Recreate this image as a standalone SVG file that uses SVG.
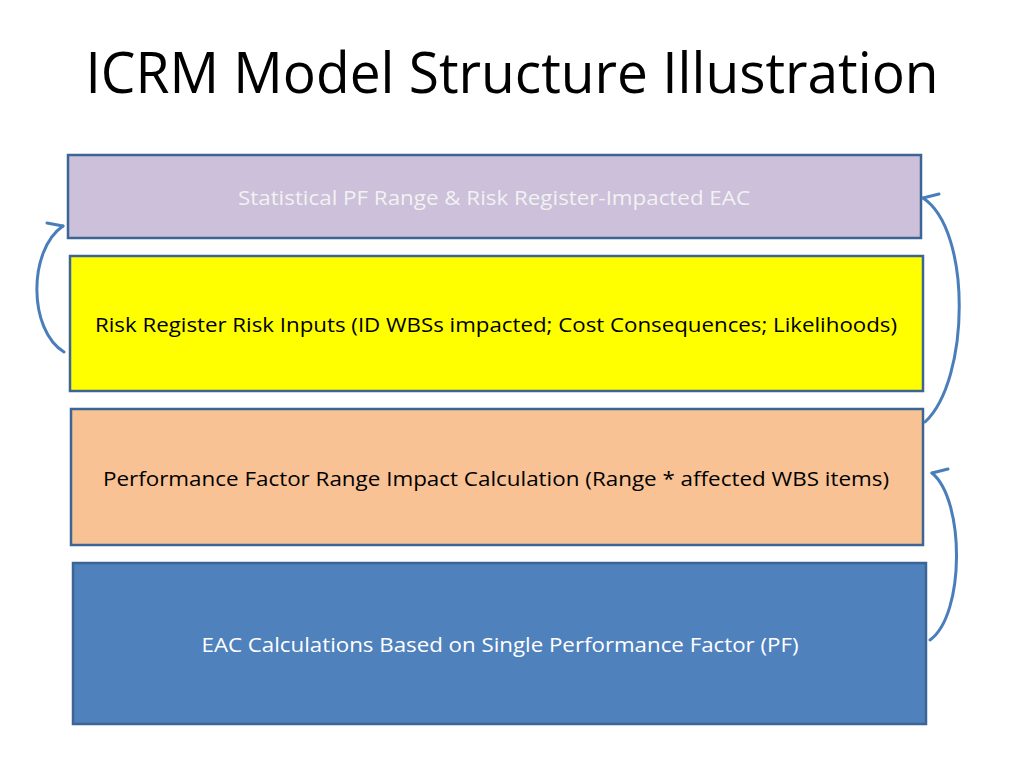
<svg xmlns="http://www.w3.org/2000/svg" width="1024" height="768" viewBox="0 0 1024 768">
<defs>
<style>
.box{stroke:#3c6494;stroke-width:2.5}
.lbl{font-family:"Open Sans","Liberation Sans",sans-serif;font-size:20px;text-anchor:middle}
.arc{fill:none;stroke:#4a7ebb;stroke-width:3;stroke-linecap:round}
.wing{fill:none;stroke:#4a7ebb;stroke-width:3;stroke-linecap:round}
</style>
<marker id="hookR" viewBox="-20 -20 40 40" refX="0" refY="0" markerWidth="40" markerHeight="40" orient="0" markerUnits="userSpaceOnUse" overflow="visible">
<path class="wing" d="M0,0 L16,-4"/>
</marker>
<marker id="hookL" viewBox="-20 -20 40 40" refX="0" refY="0" markerWidth="40" markerHeight="40" orient="0" markerUnits="userSpaceOnUse" overflow="visible">
<path class="wing" d="M0,0 L-16,-3"/>
</marker>
</defs>
<rect width="1024" height="768" fill="#ffffff"/>
<text x="512" y="93" font-family="'Open Sans','Liberation Sans',sans-serif" font-size="56" text-anchor="middle" fill="#000" textLength="853" lengthAdjust="spacingAndGlyphs">ICRM Model Structure Illustration</text>
<g id="node-eac-range">
<rect class="box" x="68" y="155" width="853" height="83" fill="#ccc0da"/>
<text class="lbl" x="494" y="205" fill="#f2f2f2" textLength="512" lengthAdjust="spacingAndGlyphs">Statistical PF Range &amp; Risk Register-Impacted EAC</text>
</g>
<g id="node-risk-register">
<rect class="box" x="70" y="256" width="853" height="135" fill="#ffff00"/>
<text class="lbl" x="496" y="332" fill="#000" textLength="802" lengthAdjust="spacingAndGlyphs">Risk Register Risk Inputs (ID WBSs impacted; Cost Consequences; Likelihoods)</text>
</g>
<g id="node-pf-range">
<rect class="box" x="71" y="409" width="852" height="136" fill="#f9c294"/>
<text class="lbl" x="496" y="486" fill="#000" textLength="786" lengthAdjust="spacingAndGlyphs">Performance Factor Range Impact Calculation (Range * affected WBS items)</text>
</g>
<g id="node-eac-single">
<rect class="box" x="73" y="563" width="853" height="161" fill="#4f81bd"/>
<text class="lbl" x="500" y="652" fill="#ffffff" textLength="597" lengthAdjust="spacingAndGlyphs">EAC Calculations Based on Single Performance Factor (PF)</text>
</g>
<g id="connectors">
<path class="arc" d="M64,352 C28,330 28,250 63,226" marker-end="url(#hookL)"/>
<path class="arc" d="M925,422 C970,380 972,230 923,198" marker-end="url(#hookR)"/>
<path class="arc" d="M930,640 C965,615 965,500 932,473" marker-end="url(#hookR)"/>
</g>
</svg>
